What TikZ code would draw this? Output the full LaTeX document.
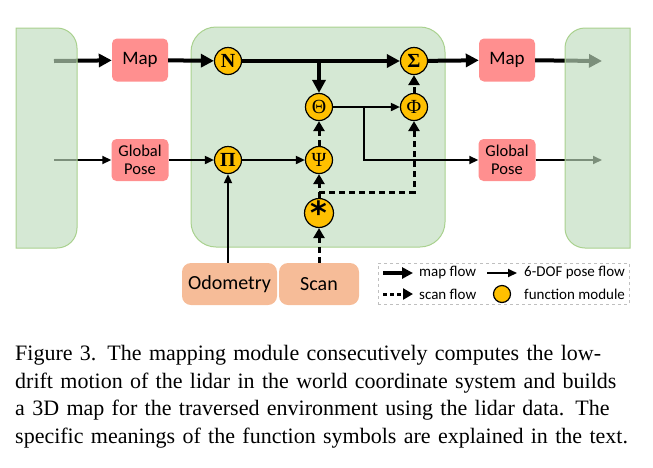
\documentclass[tikz,border=0pt]{standalone}
\usepackage{fontspec}
\setmainfont{Liberation Serif}
\setsansfont{Carlito}
\newfontfamily\symfont{DejaVu Sans}
\usetikzlibrary{arrows.meta,positioning}
\definecolor{panelgreen}{HTML}{D5E8D4}
\definecolor{paneltint}{HTML}{BFDCBD}
\definecolor{paneledge}{HTML}{A9D18E}
\definecolor{mapred}{HTML}{FF8F8F}
\definecolor{sensorpeach}{HTML}{F6BC98}
\definecolor{fyellow}{HTML}{FFC000}
\definecolor{legendgray}{HTML}{BFBFBF}
\newcommand{\fsz}[1]{\fontsize{#1}{#1}\selectfont}

\tikzset{
  fmod/.style={circle,draw,fill=fyellow,line width=1.2pt,minimum size=27pt,inner sep=0pt,font=\fsz{20}},
  databox/.style={rectangle,rounded corners=5pt,fill=mapred,align=center,minimum width=56pt,minimum height=43pt,inner sep=0pt},
  sensorbox/.style={rectangle,rounded corners=9pt,fill=sensorpeach,minimum height=42pt,inner sep=0pt,font=\sffamily\fsz{20}},
  mapflow/.style={-{Triangle[length=13pt,width=13pt]},line width=4pt},
  poseflow/.style={-{Triangle[length=9pt,width=8pt]},line width=1.8pt},
  scanflow/.style={-{Triangle[length=10pt,width=11pt]},line width=3pt,dash pattern=on 6pt off 4pt},
  sidepanel/.style={fill=paneltint,fill opacity=0.65,draw=paneledge,line width=1pt},
  legtext/.style={anchor=west,inner sep=0pt,font=\sffamily\fsz{15}}
}

\begin{document}
\begin{tikzpicture}[x=1pt,y=-1pt]
\useasboundingbox (0,0) rectangle (653,467);
% middle panel
\draw[fill=panelgreen,draw=paneledge,line width=1pt,rounded corners=25pt] (191,27) rectangle (445,247);

% data boxes
\node(map1)[databox,font=\sffamily\fsz{19}] at (140,60) {Map};
\node(gp1)[databox,font=\sffamily\fontsize{16.5}{18}\selectfont,minimum width=57pt,minimum height=42pt] at (140,160) {Global\\Pose};
\node(map2)[databox,font=\sffamily\fsz{19}] at (507,60) {Map};
\node(gp2)[databox,font=\sffamily\fontsize{16.5}{18}\selectfont,minimum width=57pt,minimum height=42pt] at (507,160) {Global\\Pose};
\node(odo)[sensorbox,minimum width=95pt] at (229.5,284) {Odometry};
\node(scan)[sensorbox,minimum width=80pt] at (319,284) {Scan};

% function modules
\node(nn)[fmod] at (228,61) {\textbf{N}};
\node(pii)[fmod] at (228,160) {\textbf{Π}};
\node(the)[fmod] at (319,107) {Θ};
\node(psi)[fmod] at (319,160) {Ψ};
\node(ast)[fmod] at (319,213) {\symfont\bfseries\fsz{32}\raisebox{-7pt}{*}};
\node(sig)[fmod] at (414,61) {\textbf{Σ}};
\node(phi)[fmod] at (414,107) {Φ};

\coordinate (lin1) at (54,61);
\coordinate (lin2) at (54,160);
\coordinate (rout1) at (602,61);
\coordinate (rout2) at (602,160);
\coordinate (mj) at (319,61);
\coordinate (pj) at (364,107);
\coordinate (sj) at (319,192);

% map flow
\draw[mapflow] (lin1) -- (map1);
\draw[mapflow] (map1) -- (nn);
\draw[mapflow] (nn) -- (sig);
\draw[mapflow] (mj) -- (the);
\draw[mapflow] (sig) -- (map2);
\draw[mapflow] (map2) -- (rout1);
% pose flow
\draw[poseflow] (lin2) -- (gp1);
\draw[poseflow] (gp1) -- (pii);
\draw[poseflow] (pii) -- (psi);
\draw[poseflow] (odo.north -| pii) -- (pii);
\draw[poseflow] (the) -- (phi);
\draw[poseflow] (pj) |- (gp2);
\draw[poseflow] (gp2) -- (rout2);
% scan flow
\draw[scanflow] (scan) -- (ast);
\draw[scanflow] (ast) -- (psi);
\draw[scanflow] (sj) -| (phi);
\draw[scanflow] (psi) -- (the);
\draw[scanflow] (phi) -- (sig);

% side panels
\draw[sidepanel] (16,28) -- (57,28) arc[start angle=-90,end angle=0,radius=20] -- (77,228) arc[start angle=0,end angle=90,radius=20] -- (16,248) -- cycle;
\draw[sidepanel] (630,28) -- (585,28) arc[start angle=-90,end angle=-180,radius=20] -- (565,228) arc[start angle=180,end angle=90,radius=20] -- (630,248) -- cycle;

% legend
\node(leg)[draw=legendgray,dashed,line width=0.8pt,minimum width=251pt,minimum height=41pt] at (503.5,283.5) {};
\coordinate (la1) at (383,273); \coordinate (lb1) at (413,273);
\coordinate (la2) at (383,294); \coordinate (lb2) at (413,294);
\coordinate (la3) at (487,273); \coordinate (lb3) at (517,273);
\draw[mapflow,line width=3.5pt,-{Triangle[length=11pt,width=11pt]}] (la1) -- (lb1);
\draw[scanflow,dash pattern=on 4pt off 3pt] (la2) -- (lb2);
\draw[poseflow] (la3) -- (lb3);
\node(lt1)[legtext] at (419,273) {map flow};
\node(lt2)[legtext] at (419,294) {scan flow};
\node(lt3)[legtext] at (524,273) {6-DOF pose flow};
\node(lt4)[legtext] at (524,294) {function module};
\node(lc)[fmod,minimum size=17pt] at (502,294) {};

% caption
\node(cap)[anchor=north west,inner sep=0pt,text width=615pt,font=\fontsize{22}{27.7}\selectfont] at (15,345) {\parfillskip=0pt Figure 3. The mapping module consecutively computes the low-\linebreak drift motion of the lidar in the world coordinate system and builds a 3D map for the traversed environment using the lidar data. The specific meanings of the function symbols are explained in the text.\par};
\end{tikzpicture}
\end{document}
